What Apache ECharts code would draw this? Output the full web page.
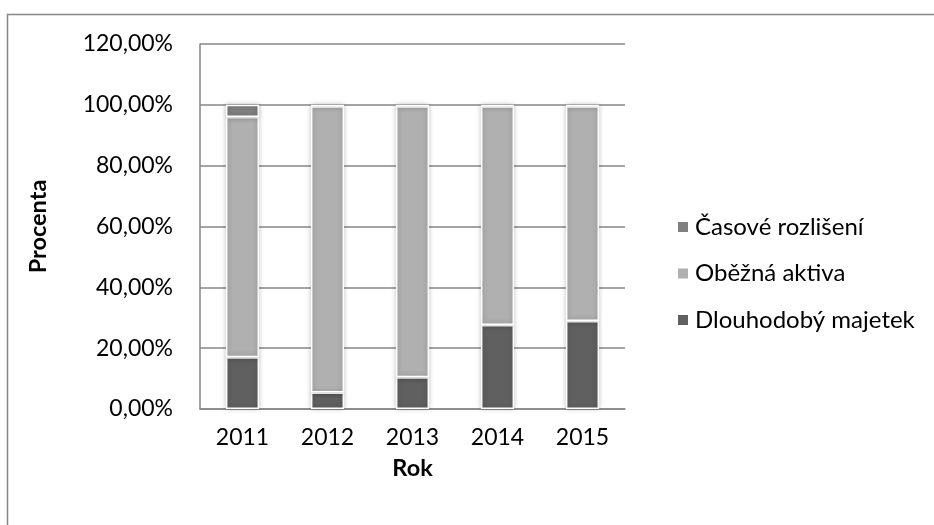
<!DOCTYPE html>
<html>
<head>
<meta charset="utf-8">
<script src="https://cdn.jsdelivr.net/npm/echarts@6/dist/echarts.min.js"></script>
<style>
  html, body { margin: 0; padding: 0; background: #fff; }
  #chart { width: 934px; height: 525px; }
</style>
</head>
<body>
<div id="chart"></div>
<script>
// Years on the category axis
const years = ['2011', '2012', '2013', '2014', '2015'];

// Share of each asset group in total assets (%)
const dlouhodobyMajetek = [17.0, 5.4, 10.4, 27.6, 28.9];
const obeznaAktiva      = [79.0, 94.1, 89.1, 71.9, 70.6];
const casoveRozliseni   = [4.0, 0.5, 0.5, 0.5, 0.5];

// Value-axis ticks
const yTicks = [0, 20, 40, 60, 80, 100, 120];

const FONT = 'Lato, "Open Sans", sans-serif';

const chart = echarts.init(document.getElementById('chart'));

function segment(name, data, color) {
  return {
    name: name,
    type: 'bar',
    stack: 'assets',
    data: data,
    barWidth: '39%',
    itemStyle: {
      color: color,
      borderColor: '#ffffff',
      borderWidth: 1.5,
      shadowColor: 'rgba(0,0,0,0.28)',
      shadowBlur: 5
    },
    emphasis: { disabled: true }
  };
}

chart.setOption({
  animation: false,
  backgroundColor: '#ffffff',
  graphic: [{
    type: 'rect',
    shape: { x: 7.5, y: 14.5, width: 940, height: 530 },
    style: { fill: 'none', stroke: '#868686', lineWidth: 1.5 },
    silent: true,
    z: -10
  }],
  grid: { left: 200, top: 44, width: 425, height: 365 },
  legend: {
    orient: 'vertical',
    left: 671,
    top: 210,
    itemWidth: 12,
    itemHeight: 12,
    itemGap: 22.5,
    icon: 'rect',
    data: ['Časové rozlišení', 'Oběžná aktiva', 'Dlouhodobý majetek'],
    textStyle: { fontFamily: FONT, fontSize: 24, color: '#000', padding: [0, 0, 0, 1] }
  },
  xAxis: {
    type: 'category',
    data: years,
    name: 'Rok',
    nameLocation: 'middle',
    nameGap: 47,
    nameTextStyle: { fontFamily: FONT, fontSize: 23.5, fontWeight: 'bold', color: '#000' },
    axisLine: { lineStyle: { color: '#868686', width: 1.5 } },
    axisTick: { show: false },
    axisLabel: { fontFamily: FONT, fontSize: 23, color: '#000', margin: 17 }
  },
  yAxis: {
    type: 'value',
    min: yTicks[0],
    max: yTicks[yTicks.length - 1],
    interval: 20,
    name: 'Procenta',
    nameLocation: 'middle',
    nameGap: 150,
    nameRotate: 90,
    nameTextStyle: { fontFamily: FONT, fontSize: 23.5, fontWeight: 'bold', color: '#000' },
    axisLine: { show: true, lineStyle: { color: '#868686', width: 1.5 } },
    axisTick: { show: false },
    splitLine: { lineStyle: { color: '#868686', width: 1.5 } },
    axisLabel: {
      fontFamily: FONT, fontSize: 23, color: '#000', margin: 27,
      formatter: v => v.toFixed(2).replace('.', ',') + '%'
    }
  },
  series: [
    segment('Dlouhodobý majetek', dlouhodobyMajetek, '#606060'),
    segment('Oběžná aktiva', obeznaAktiva, '#b0b0b0'),
    segment('Časové rozlišení', casoveRozliseni, '#808080')
  ]
});
</script>
</body>
</html>
